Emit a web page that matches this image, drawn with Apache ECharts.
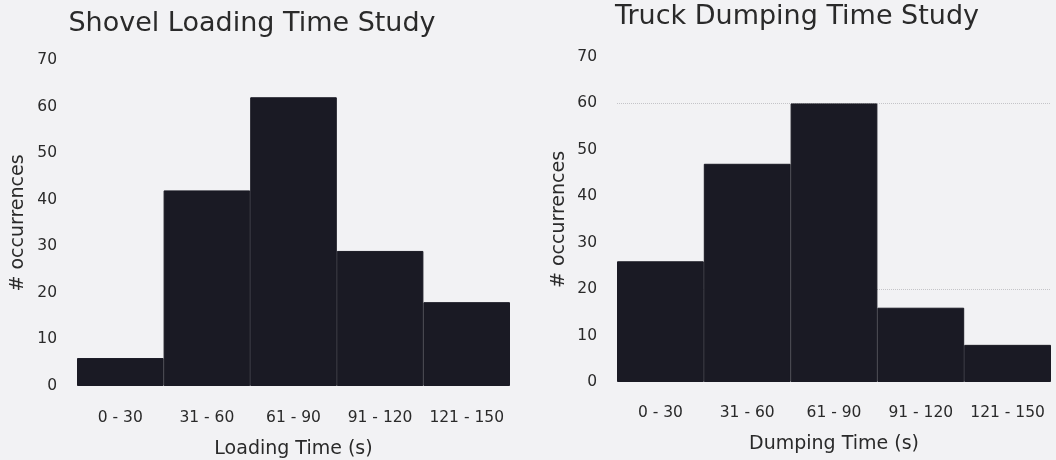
<!DOCTYPE html>
<html>
<head>
<meta charset="utf-8">
<script src="https://cdn.jsdelivr.net/npm/echarts@6/dist/echarts.min.js"></script>
<style>
html,body{margin:0;padding:0;background:#f2f2f4;}
#c{width:1056px;height:460px;}
</style>
</head>
<body>
<div id="c"></div>
<script>
const categories = ['0 - 30', '31 - 60', '61 - 90', '91 - 120', '121 - 150'];
const shovelCounts = [6, 42, 62, 29, 18];
const truckCounts = [26, 47, 60, 16, 8];
const yMin = 0, yMax = 70, yStep = 10;
const titles = ['Shovel Loading Time Study', 'Truck Dumping Time Study'];
const xNames = ['Loading Time (s)', 'Dumping Time (s)'];
const yName = '# occurrences';

const FONT = 'DejaVu Sans';
const barColor = '#1a1a24';
const textColor = '#2a2a2a';

function xAxisOf(i, labelMargin, nameGap) {
  return {
    type: 'category', gridIndex: i, data: categories,
    axisLine: {show: false}, axisTick: {show: false},
    axisLabel: {interval: 0, fontFamily: FONT, fontSize: 15.5, color: textColor, margin: labelMargin},
    name: xNames[i], nameLocation: 'middle', nameGap: nameGap,
    nameTextStyle: {fontFamily: FONT, fontSize: 19, color: textColor}
  };
}
function yAxisOf(i, nameGap) {
  return {
    type: 'value', gridIndex: i, min: yMin, max: yMax, interval: yStep,
    axisLine: {show: false}, axisTick: {show: false}, splitLine: {show: false},
    axisLabel: {fontFamily: FONT, fontSize: 15.5, color: textColor, margin: 20},
    name: yName, nameLocation: 'middle', nameRotate: 90, nameGap: nameGap,
    nameTextStyle: {fontFamily: FONT, fontSize: 19, color: textColor}
  };
}

const chart = echarts.init(document.getElementById('c'), null, {renderer: 'canvas'});
chart.setOption({
  backgroundColor: '#f2f2f4',
  animation: false,
  title: [
    {text: titles[0], left: 252, top: 10, textAlign: 'center', padding: 0,
     textStyle: {fontFamily: FONT, fontSize: 27, fontWeight: 'normal', color: textColor}},
    {text: titles[1], left: 797, top: 3, textAlign: 'center', padding: 0,
     textStyle: {fontFamily: FONT, fontSize: 27, fontWeight: 'normal', color: textColor}}
  ],
  grid: [
    {left: 77, right: 546, top: 60, bottom: 74, containLabel: false, outerBoundsMode: 'none'},
    {left: 617, right: 5, top: 57, bottom: 78, containLabel: false, outerBoundsMode: 'none'}
  ],
  xAxis: [xAxisOf(0, 24, 54), xAxisOf(1, 23, 53)],
  yAxis: [yAxisOf(0, 49), yAxisOf(1, 48)],
  series: [
    {type: 'bar', xAxisIndex: 0, yAxisIndex: 0, data: shovelCounts,
     barCategoryGap: '0%', itemStyle: {color: barColor, borderColor: barColor, borderWidth: 1}},
    {type: 'bar', xAxisIndex: 1, yAxisIndex: 1, data: truckCounts,
     barCategoryGap: '0%', itemStyle: {color: barColor, borderColor: barColor, borderWidth: 1},
     markLine: {silent: true, symbol: 'none', z: 1, label: {show: false},
       lineStyle: {type: 'dotted', color: '#c4c4c8', width: 1},
       data: [{yAxis: 60}, {yAxis: 20}]}}
  ]
});
</script>
</body>
</html>
